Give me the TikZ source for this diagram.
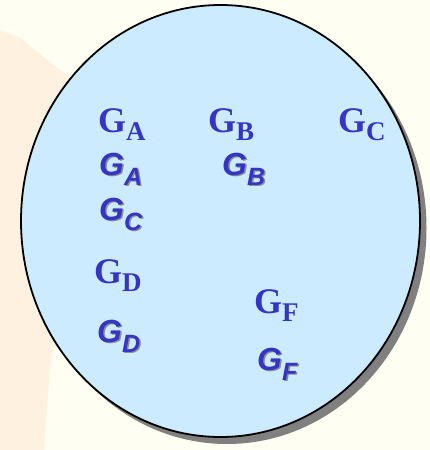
\documentclass[tikz,border=0pt]{standalone}
\usepackage{fontspec}
\usepackage{tikz}
\newfontfamily\timesG{Liberation Serif}
\newfontfamily\arialG{Liberation Sans}
\definecolor{krem}{HTML}{FFFEF2}
\definecolor{seftali}{HTML}{FEF1E0}
\definecolor{acikMavi}{HTML}{CCEBFE}
\definecolor{yaziMavi}{HTML}{3535C4}
\definecolor{golge}{HTML}{808080}
\newcommand{\romG}[1]{G\raisebox{-8pt}{\fontsize{27}{27}\selectfont #1}}
\newcommand{\itG}[1]{G\raisebox{-10pt}{\fontsize{25}{25}\selectfont #1}}
\tikzset{
  romlbl/.style={anchor=base west,inner sep=0pt,text=yaziMavi,font=\timesG\bfseries\fontsize{36}{36}\selectfont},
  itlbl/.style={anchor=base west,inner sep=0pt,text=yaziMavi,font=\arialG\bfseries\itshape\fontsize{32}{32}\selectfont},
  itgolge/.style={itlbl,text=golge!90}
}
\begin{document}
\begin{tikzpicture}[x=1pt,y=-1pt]
\useasboundingbox (0,0) rectangle (430,450);
\fill[krem] (0,0) rectangle (430,450);
\fill[seftali] (0,30) -- (20,38) -- (70,78) -- (60,300) -- (50,367) -- (44,450) -- (0,450) -- cycle; % arka plan
\fill[golge] (227,228) ellipse (199.5 and 216);
\filldraw[fill=acikMavi,draw=black,line width=1.8pt] (220.5,221) ellipse (199.5 and 216);
\foreach \nm/\s/\x/\y in {rA/A/98/132,rB/B/208/132,rC/C/338/132,rD/D/94/283,rF/F/254/313}
  \node[romlbl] (\nm) at (\x,\y) {\romG{\s}};
\foreach \nm/\s/\x/\y in {iA/A/99/175,iB/B/222/175,iC/C/99/220,iD/D/97/342,iF/F/257/370}{
  \node[itgolge] (\nm-g) at ({\x+1.5},{\y+1.5}) {\itG{\s}};
  \node[itlbl] (\nm) at (\x,\y) {\itG{\s}};
}
\end{tikzpicture}
\end{document}
